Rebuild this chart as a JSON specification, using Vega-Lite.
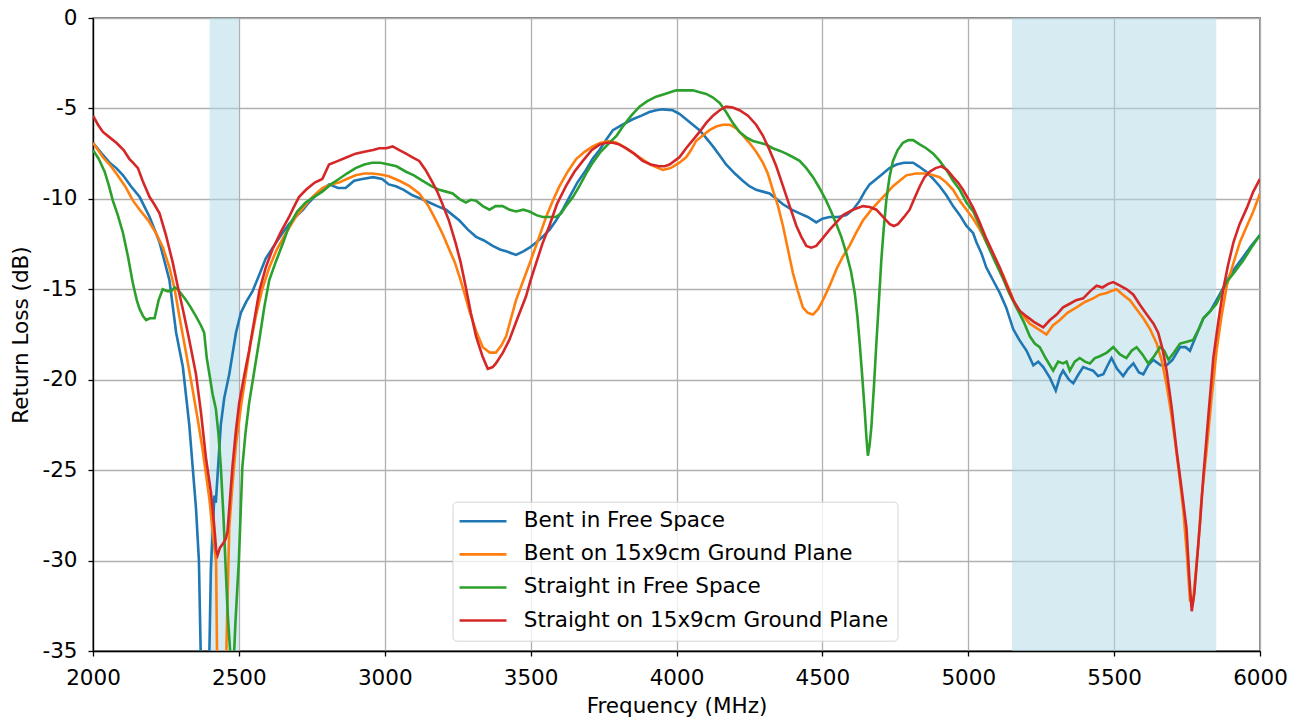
{
  "$schema": "https://vega.github.io/schema/vega-lite/v6.json",
  "width": 1167,
  "height": 633,
  "autosize": {"type": "none"},
  "padding": {"left": 93, "top": 18, "right": 42, "bottom": 73},
  "background": "white",
  "config": {
    "font": "DejaVu Sans",
    "view": {"stroke": "black", "strokeWidth": 1.3},
    "axis": {
      "labelFont": "DejaVu Sans", "labelFontSize": 21.5, "labelColor": "black",
      "titleFont": "DejaVu Sans", "titleFontSize": 21.5, "titleFontWeight": "normal", "titleColor": "black",
      "domainColor": "black", "domainWidth": 1.3, "tickColor": "black", "tickWidth": 1.3, "tickSize": 5,
      "gridColor": "#b0b0b0", "gridWidth": 1.3, "labelOverlap": false, "labelFlush": false
    },
    "legend": {
      "orient": "none", "legendX": 359.5, "legendY": 483.7,
      "symbolType": "M-1.6,0H4.4", "symbolSize": 245, "symbolStrokeWidth": 2.6,
      "labelFont": "DejaVu Sans", "labelFontSize": 21.5, "labelColor": "black", "labelOffset": 41, "labelLimit": 0,
      "padding": 8.8, "rowPadding": 10.1, "strokeColor": "#d5d5d5", "fillColor": "rgba(255,255,255,0.8)", "cornerRadius": 4
    }
  },
  "datasets": {
    "bands": [{"start": 2400, "end": 2500}, {"start": 5150, "end": 5850}],
    "bentFree": [
      {"f":2000,"v":-6.9},{"f":2030,"v":-7.5},{"f":2057,"v":-8.0},{"f":2080,"v":-8.3},{"f":2103,"v":-8.7},{"f":2130,"v":-9.3},{"f":2160,"v":-9.9},{"f":2194,"v":-11.0},{"f":2228,"v":-12.4},{"f":2262,"v":-14.5},{"f":2285,"v":-17.4},{"f":2308,"v":-19.3},{"f":2330,"v":-22.5},{"f":2353,"v":-27.1},{"f":2363,"v":-30.0},{"f":2369,"v":-35.0},{"f":2385,"v":-40},{"f":2399,"v":-35.0},{"f":2404,"v":-30.5},{"f":2416,"v":-26.4},{"f":2421,"v":-26.8},{"f":2438,"v":-22.5},{"f":2450,"v":-21.0},{"f":2467,"v":-19.7},{"f":2490,"v":-17.4},{"f":2507,"v":-16.3},{"f":2525,"v":-15.7},{"f":2547,"v":-15.1},{"f":2570,"v":-14.2},{"f":2592,"v":-13.3},{"f":2620,"v":-12.6},{"f":2649,"v":-11.9},{"f":2672,"v":-11.4},{"f":2695,"v":-11.0},{"f":2720,"v":-10.6},{"f":2740,"v":-10.2},{"f":2770,"v":-9.7},{"f":2809,"v":-9.2},{"f":2840,"v":-9.4},{"f":2866,"v":-9.4},{"f":2895,"v":-9.0},{"f":2923,"v":-8.9},{"f":2960,"v":-8.8},{"f":2991,"v":-8.9},{"f":3014,"v":-9.2},{"f":3038,"v":-9.3},{"f":3065,"v":-9.5},{"f":3095,"v":-9.8},{"f":3125,"v":-10.0},{"f":3153,"v":-10.2},{"f":3180,"v":-10.4},{"f":3210,"v":-10.6},{"f":3233,"v":-10.9},{"f":3256,"v":-11.2},{"f":3285,"v":-11.7},{"f":3313,"v":-12.1},{"f":3340,"v":-12.3},{"f":3370,"v":-12.6},{"f":3395,"v":-12.8},{"f":3416,"v":-12.9},{"f":3450,"v":-13.1},{"f":3475,"v":-12.9},{"f":3496,"v":-12.7},{"f":3520,"v":-12.4},{"f":3541,"v":-12.1},{"f":3565,"v":-11.7},{"f":3587,"v":-11.2},{"f":3610,"v":-10.6},{"f":3633,"v":-9.9},{"f":3660,"v":-9.1},{"f":3690,"v":-8.4},{"f":3712,"v":-7.8},{"f":3736,"v":-7.3},{"f":3760,"v":-6.7},{"f":3782,"v":-6.2},{"f":3815,"v":-5.9},{"f":3850,"v":-5.6},{"f":3880,"v":-5.4},{"f":3907,"v":-5.2},{"f":3930,"v":-5.1},{"f":3953,"v":-5.05},{"f":3987,"v":-5.1},{"f":4010,"v":-5.3},{"f":4033,"v":-5.6},{"f":4056,"v":-5.9},{"f":4079,"v":-6.2},{"f":4100,"v":-6.6},{"f":4125,"v":-7.1},{"f":4148,"v":-7.6},{"f":4170,"v":-8.1},{"f":4200,"v":-8.6},{"f":4227,"v":-9.0},{"f":4250,"v":-9.3},{"f":4273,"v":-9.5},{"f":4296,"v":-9.6},{"f":4319,"v":-9.7},{"f":4342,"v":-10.0},{"f":4365,"v":-10.3},{"f":4395,"v":-10.6},{"f":4422,"v":-10.8},{"f":4450,"v":-11.0},{"f":4479,"v":-11.3},{"f":4500,"v":-11.1},{"f":4525,"v":-11.0},{"f":4555,"v":-11.0},{"f":4582,"v":-10.9},{"f":4605,"v":-10.6},{"f":4628,"v":-10.1},{"f":4645,"v":-9.6},{"f":4662,"v":-9.2},{"f":4685,"v":-8.9},{"f":4708,"v":-8.6},{"f":4730,"v":-8.3},{"f":4754,"v":-8.1},{"f":4780,"v":-8.0},{"f":4811,"v":-8.0},{"f":4830,"v":-8.2},{"f":4856,"v":-8.5},{"f":4880,"v":-8.9},{"f":4902,"v":-9.3},{"f":4925,"v":-9.8},{"f":4948,"v":-10.4},{"f":4971,"v":-10.9},{"f":4994,"v":-11.5},{"f":5017,"v":-11.9},{"f":5028,"v":-12.4},{"f":5045,"v":-13.0},{"f":5062,"v":-13.8},{"f":5085,"v":-14.5},{"f":5108,"v":-15.2},{"f":5130,"v":-16.0},{"f":5154,"v":-17.2},{"f":5175,"v":-17.8},{"f":5200,"v":-18.4},{"f":5223,"v":-19.2},{"f":5240,"v":-19.0},{"f":5257,"v":-19.3},{"f":5280,"v":-19.9},{"f":5300,"v":-20.6},{"f":5315,"v":-19.8},{"f":5325,"v":-19.5},{"f":5345,"v":-20.0},{"f":5360,"v":-20.2},{"f":5378,"v":-19.7},{"f":5394,"v":-19.3},{"f":5410,"v":-19.4},{"f":5428,"v":-19.5},{"f":5445,"v":-19.8},{"f":5463,"v":-19.7},{"f":5478,"v":-19.2},{"f":5491,"v":-18.8},{"f":5510,"v":-19.4},{"f":5531,"v":-19.8},{"f":5548,"v":-19.4},{"f":5566,"v":-19.1},{"f":5585,"v":-19.6},{"f":5600,"v":-19.7},{"f":5617,"v":-19.2},{"f":5634,"v":-18.9},{"f":5660,"v":-19.2},{"f":5680,"v":-19.2},{"f":5700,"v":-18.9},{"f":5726,"v":-18.2},{"f":5745,"v":-18.2},{"f":5760,"v":-18.4},{"f":5785,"v":-17.4},{"f":5806,"v":-16.6},{"f":5830,"v":-16.2},{"f":5851,"v":-15.6},{"f":5875,"v":-14.9},{"f":5897,"v":-14.2},{"f":5920,"v":-13.7},{"f":5943,"v":-13.2},{"f":5970,"v":-12.6},{"f":6000,"v":-12.0}
    ],
    "bentGround": [
      {"f":2000,"v":-6.9},{"f":2034,"v":-7.7},{"f":2057,"v":-8.1},{"f":2080,"v":-8.6},{"f":2110,"v":-9.3},{"f":2137,"v":-10.1},{"f":2160,"v":-10.6},{"f":2190,"v":-11.2},{"f":2216,"v":-11.9},{"f":2240,"v":-12.7},{"f":2262,"v":-13.8},{"f":2280,"v":-15.0},{"f":2296,"v":-16.5},{"f":2320,"v":-18.6},{"f":2342,"v":-20.6},{"f":2360,"v":-22.3},{"f":2376,"v":-23.9},{"f":2399,"v":-26.6},{"f":2411,"v":-28.5},{"f":2422,"v":-30.1},{"f":2425,"v":-35},{"f":2440,"v":-40},{"f":2457,"v":-35},{"f":2467,"v":-28.2},{"f":2478,"v":-25.8},{"f":2490,"v":-23.6},{"f":2507,"v":-21.5},{"f":2524,"v":-19.7},{"f":2540,"v":-18.0},{"f":2558,"v":-16.5},{"f":2580,"v":-15.0},{"f":2604,"v":-13.8},{"f":2630,"v":-12.8},{"f":2661,"v":-11.9},{"f":2695,"v":-11.0},{"f":2720,"v":-10.5},{"f":2740,"v":-10.1},{"f":2765,"v":-9.7},{"f":2786,"v":-9.4},{"f":2815,"v":-9.2},{"f":2843,"v":-9.1},{"f":2870,"v":-8.9},{"f":2900,"v":-8.7},{"f":2930,"v":-8.6},{"f":2957,"v":-8.6},{"f":2985,"v":-8.65},{"f":3014,"v":-8.75},{"f":3050,"v":-9.0},{"f":3085,"v":-9.3},{"f":3118,"v":-9.7},{"f":3150,"v":-10.4},{"f":3176,"v":-11.2},{"f":3200,"v":-12.0},{"f":3221,"v":-12.8},{"f":3240,"v":-13.5},{"f":3256,"v":-14.3},{"f":3273,"v":-15.2},{"f":3290,"v":-16.2},{"f":3313,"v":-17.3},{"f":3336,"v":-18.2},{"f":3360,"v":-18.5},{"f":3381,"v":-18.5},{"f":3400,"v":-18.1},{"f":3416,"v":-17.6},{"f":3433,"v":-16.6},{"f":3450,"v":-15.6},{"f":3473,"v":-14.6},{"f":3496,"v":-13.6},{"f":3525,"v":-12.3},{"f":3553,"v":-11.0},{"f":3576,"v":-10.1},{"f":3599,"v":-9.3},{"f":3627,"v":-8.5},{"f":3656,"v":-7.8},{"f":3685,"v":-7.4},{"f":3713,"v":-7.1},{"f":3740,"v":-6.9},{"f":3770,"v":-6.8},{"f":3795,"v":-6.9},{"f":3816,"v":-7.1},{"f":3845,"v":-7.4},{"f":3873,"v":-7.7},{"f":3910,"v":-8.1},{"f":3953,"v":-8.4},{"f":3980,"v":-8.3},{"f":4010,"v":-8.0},{"f":4033,"v":-7.7},{"f":4050,"v":-7.3},{"f":4067,"v":-6.8},{"f":4090,"v":-6.5},{"f":4113,"v":-6.2},{"f":4136,"v":-6.0},{"f":4159,"v":-5.9},{"f":4182,"v":-5.9},{"f":4205,"v":-6.1},{"f":4228,"v":-6.5},{"f":4250,"v":-6.9},{"f":4273,"v":-7.4},{"f":4296,"v":-8.0},{"f":4313,"v":-8.6},{"f":4330,"v":-9.5},{"f":4348,"v":-10.4},{"f":4365,"v":-11.5},{"f":4382,"v":-12.8},{"f":4399,"v":-14.1},{"f":4416,"v":-15.1},{"f":4433,"v":-16.0},{"f":4450,"v":-16.3},{"f":4468,"v":-16.4},{"f":4485,"v":-16.1},{"f":4502,"v":-15.6},{"f":4525,"v":-14.8},{"f":4548,"v":-13.9},{"f":4570,"v":-13.2},{"f":4593,"v":-12.6},{"f":4615,"v":-11.9},{"f":4639,"v":-11.2},{"f":4668,"v":-10.6},{"f":4696,"v":-10.1},{"f":4720,"v":-9.7},{"f":4742,"v":-9.3},{"f":4765,"v":-9.0},{"f":4788,"v":-8.7},{"f":4820,"v":-8.6},{"f":4856,"v":-8.6},{"f":4880,"v":-8.7},{"f":4902,"v":-8.8},{"f":4925,"v":-9.1},{"f":4948,"v":-9.5},{"f":4971,"v":-10.1},{"f":4994,"v":-10.6},{"f":5017,"v":-11.1},{"f":5040,"v":-11.7},{"f":5062,"v":-12.4},{"f":5090,"v":-13.3},{"f":5119,"v":-14.2},{"f":5140,"v":-15.0},{"f":5165,"v":-16.0},{"f":5190,"v":-16.5},{"f":5211,"v":-16.9},{"f":5240,"v":-17.2},{"f":5268,"v":-17.5},{"f":5290,"v":-17.0},{"f":5314,"v":-16.7},{"f":5340,"v":-16.3},{"f":5371,"v":-16.0},{"f":5400,"v":-15.7},{"f":5428,"v":-15.5},{"f":5450,"v":-15.3},{"f":5474,"v":-15.2},{"f":5490,"v":-15.1},{"f":5508,"v":-15.0},{"f":5530,"v":-15.3},{"f":5554,"v":-15.6},{"f":5577,"v":-16.1},{"f":5600,"v":-16.6},{"f":5623,"v":-17.2},{"f":5646,"v":-18.0},{"f":5664,"v":-19.0},{"f":5680,"v":-20.3},{"f":5695,"v":-21.8},{"f":5708,"v":-23.3},{"f":5722,"v":-25.1},{"f":5737,"v":-27.2},{"f":5750,"v":-29.8},{"f":5760,"v":-32.2},{"f":5771,"v":-32.2},{"f":5788,"v":-29.2},{"f":5800,"v":-26.5},{"f":5817,"v":-23.9},{"f":5834,"v":-21.0},{"f":5851,"v":-18.4},{"f":5868,"v":-16.5},{"f":5886,"v":-14.8},{"f":5910,"v":-13.5},{"f":5931,"v":-12.4},{"f":5955,"v":-11.5},{"f":5977,"v":-10.7},{"f":6000,"v":-9.7}
    ],
    "straightFree": [
      {"f":2000,"v":-7.3},{"f":2020,"v":-7.8},{"f":2040,"v":-8.5},{"f":2055,"v":-9.3},{"f":2068,"v":-10.1},{"f":2085,"v":-10.9},{"f":2103,"v":-11.9},{"f":2120,"v":-13.2},{"f":2137,"v":-14.7},{"f":2150,"v":-15.6},{"f":2160,"v":-16.1},{"f":2172,"v":-16.5},{"f":2182,"v":-16.7},{"f":2195,"v":-16.6},{"f":2211,"v":-16.6},{"f":2225,"v":-15.6},{"f":2239,"v":-15.0},{"f":2255,"v":-15.1},{"f":2268,"v":-15.1},{"f":2280,"v":-14.9},{"f":2290,"v":-15.0},{"f":2305,"v":-15.3},{"f":2319,"v":-15.6},{"f":2335,"v":-16.0},{"f":2353,"v":-16.5},{"f":2370,"v":-17.0},{"f":2381,"v":-17.4},{"f":2390,"v":-18.8},{"f":2399,"v":-19.7},{"f":2410,"v":-20.8},{"f":2421,"v":-21.6},{"f":2430,"v":-23.0},{"f":2438,"v":-24.8},{"f":2447,"v":-27.5},{"f":2455,"v":-30.5},{"f":2462,"v":-33.0},{"f":2470,"v":-35},{"f":2477,"v":-40},{"f":2484,"v":-35},{"f":2488,"v":-33.5},{"f":2492,"v":-32.3},{"f":2500,"v":-30},{"f":2512,"v":-24.8},{"f":2523,"v":-22.9},{"f":2535,"v":-21.3},{"f":2552,"v":-19.6},{"f":2569,"v":-17.9},{"f":2587,"v":-16.0},{"f":2604,"v":-14.5},{"f":2626,"v":-13.5},{"f":2650,"v":-12.5},{"f":2672,"v":-11.5},{"f":2700,"v":-10.7},{"f":2729,"v":-10.2},{"f":2757,"v":-9.9},{"f":2786,"v":-9.6},{"f":2815,"v":-9.2},{"f":2843,"v":-8.9},{"f":2870,"v":-8.6},{"f":2900,"v":-8.3},{"f":2930,"v":-8.1},{"f":2957,"v":-8.0},{"f":2985,"v":-8.0},{"f":3014,"v":-8.1},{"f":3040,"v":-8.2},{"f":3073,"v":-8.5},{"f":3100,"v":-8.7},{"f":3130,"v":-9.0},{"f":3160,"v":-9.3},{"f":3187,"v":-9.5},{"f":3210,"v":-9.6},{"f":3233,"v":-9.7},{"f":3255,"v":-10.0},{"f":3278,"v":-10.2},{"f":3295,"v":-10.05},{"f":3313,"v":-10.1},{"f":3336,"v":-10.4},{"f":3359,"v":-10.6},{"f":3380,"v":-10.4},{"f":3404,"v":-10.4},{"f":3428,"v":-10.6},{"f":3450,"v":-10.7},{"f":3475,"v":-10.6},{"f":3496,"v":-10.7},{"f":3520,"v":-10.9},{"f":3541,"v":-11.0},{"f":3565,"v":-11.0},{"f":3587,"v":-11.0},{"f":3605,"v":-10.8},{"f":3621,"v":-10.4},{"f":3645,"v":-9.9},{"f":3667,"v":-9.3},{"f":3690,"v":-8.6},{"f":3713,"v":-8.0},{"f":3740,"v":-7.4},{"f":3770,"v":-6.9},{"f":3795,"v":-6.5},{"f":3816,"v":-6.0},{"f":3845,"v":-5.4},{"f":3873,"v":-4.9},{"f":3900,"v":-4.6},{"f":3930,"v":-4.35},{"f":3960,"v":-4.2},{"f":3999,"v":-4.0},{"f":4030,"v":-4.0},{"f":4056,"v":-4.0},{"f":4080,"v":-4.1},{"f":4102,"v":-4.2},{"f":4125,"v":-4.4},{"f":4148,"v":-4.7},{"f":4170,"v":-5.2},{"f":4193,"v":-5.8},{"f":4216,"v":-6.3},{"f":4239,"v":-6.6},{"f":4262,"v":-6.8},{"f":4285,"v":-6.9},{"f":4308,"v":-7.0},{"f":4330,"v":-7.2},{"f":4355,"v":-7.35},{"f":4376,"v":-7.5},{"f":4400,"v":-7.7},{"f":4422,"v":-7.9},{"f":4445,"v":-8.3},{"f":4468,"v":-8.8},{"f":4490,"v":-9.4},{"f":4513,"v":-10.1},{"f":4530,"v":-10.7},{"f":4548,"v":-11.4},{"f":4565,"v":-12.1},{"f":4582,"v":-13.0},{"f":4598,"v":-14.0},{"f":4611,"v":-15.2},{"f":4620,"v":-16.5},{"f":4628,"v":-18.0},{"f":4637,"v":-19.9},{"f":4645,"v":-21.7},{"f":4651,"v":-23.2},{"f":4656,"v":-24.2},{"f":4662,"v":-23.6},{"f":4668,"v":-22.6},{"f":4677,"v":-20.3},{"f":4685,"v":-18.0},{"f":4694,"v":-15.6},{"f":4702,"v":-13.4},{"f":4710,"v":-11.7},{"f":4719,"v":-10.1},{"f":4730,"v":-8.8},{"f":4742,"v":-7.9},{"f":4758,"v":-7.3},{"f":4776,"v":-6.9},{"f":4795,"v":-6.75},{"f":4811,"v":-6.75},{"f":4835,"v":-7.0},{"f":4856,"v":-7.2},{"f":4880,"v":-7.5},{"f":4902,"v":-7.9},{"f":4925,"v":-8.4},{"f":4948,"v":-9.0},{"f":4971,"v":-9.5},{"f":4994,"v":-10.2},{"f":5017,"v":-10.7},{"f":5040,"v":-11.5},{"f":5062,"v":-12.4},{"f":5090,"v":-13.4},{"f":5119,"v":-14.4},{"f":5140,"v":-15.2},{"f":5165,"v":-16.0},{"f":5190,"v":-16.8},{"f":5211,"v":-17.6},{"f":5228,"v":-18.0},{"f":5245,"v":-18.2},{"f":5265,"v":-18.8},{"f":5291,"v":-19.5},{"f":5308,"v":-19.0},{"f":5325,"v":-19.1},{"f":5337,"v":-19.0},{"f":5348,"v":-19.5},{"f":5365,"v":-19.0},{"f":5382,"v":-18.8},{"f":5400,"v":-19.0},{"f":5417,"v":-19.1},{"f":5434,"v":-18.8},{"f":5451,"v":-18.7},{"f":5475,"v":-18.5},{"f":5497,"v":-18.2},{"f":5520,"v":-18.6},{"f":5542,"v":-18.8},{"f":5560,"v":-18.4},{"f":5577,"v":-18.2},{"f":5597,"v":-18.6},{"f":5617,"v":-19.1},{"f":5637,"v":-18.7},{"f":5657,"v":-18.2},{"f":5672,"v":-18.4},{"f":5686,"v":-18.9},{"f":5705,"v":-18.5},{"f":5726,"v":-18.0},{"f":5750,"v":-17.9},{"f":5771,"v":-17.8},{"f":5790,"v":-17.2},{"f":5806,"v":-16.6},{"f":5830,"v":-16.2},{"f":5851,"v":-15.8},{"f":5868,"v":-15.2},{"f":5886,"v":-14.6},{"f":5915,"v":-14.0},{"f":5943,"v":-13.4},{"f":5970,"v":-12.7},{"f":6000,"v":-12.0}
    ],
    "straightGround": [
      {"f":2000,"v":-5.4},{"f":2017,"v":-5.9},{"f":2034,"v":-6.3},{"f":2057,"v":-6.6},{"f":2080,"v":-6.9},{"f":2105,"v":-7.3},{"f":2125,"v":-7.8},{"f":2137,"v":-8.0},{"f":2154,"v":-8.3},{"f":2170,"v":-9.0},{"f":2194,"v":-9.9},{"f":2210,"v":-10.3},{"f":2228,"v":-10.8},{"f":2250,"v":-12.0},{"f":2273,"v":-13.5},{"f":2290,"v":-14.8},{"f":2308,"v":-16.1},{"f":2330,"v":-17.8},{"f":2353,"v":-19.7},{"f":2370,"v":-21.8},{"f":2387,"v":-24.3},{"f":2404,"v":-26.2},{"f":2415,"v":-28.0},{"f":2422,"v":-29.4},{"f":2427,"v":-29.7},{"f":2435,"v":-29.3},{"f":2444,"v":-29.1},{"f":2455,"v":-28.8},{"f":2461,"v":-28.4},{"f":2470,"v":-26.5},{"f":2478,"v":-24.8},{"f":2490,"v":-22.8},{"f":2501,"v":-21.3},{"f":2518,"v":-19.8},{"f":2535,"v":-18.4},{"f":2552,"v":-16.8},{"f":2570,"v":-15.1},{"f":2592,"v":-13.8},{"f":2615,"v":-12.8},{"f":2645,"v":-11.8},{"f":2672,"v":-11.0},{"f":2690,"v":-10.4},{"f":2706,"v":-9.9},{"f":2730,"v":-9.5},{"f":2760,"v":-9.1},{"f":2786,"v":-8.9},{"f":2809,"v":-8.1},{"f":2840,"v":-7.9},{"f":2870,"v":-7.7},{"f":2900,"v":-7.5},{"f":2930,"v":-7.4},{"f":2960,"v":-7.3},{"f":2981,"v":-7.2},{"f":3005,"v":-7.2},{"f":3027,"v":-7.1},{"f":3050,"v":-7.3},{"f":3073,"v":-7.5},{"f":3095,"v":-7.7},{"f":3118,"v":-7.9},{"f":3140,"v":-8.4},{"f":3164,"v":-9.1},{"f":3180,"v":-9.6},{"f":3198,"v":-10.3},{"f":3220,"v":-11.2},{"f":3244,"v":-12.5},{"f":3260,"v":-13.5},{"f":3278,"v":-14.9},{"f":3295,"v":-16.3},{"f":3313,"v":-17.6},{"f":3335,"v":-18.7},{"f":3353,"v":-19.4},{"f":3370,"v":-19.3},{"f":3381,"v":-19.1},{"f":3405,"v":-18.5},{"f":3427,"v":-17.8},{"f":3455,"v":-16.6},{"f":3484,"v":-15.4},{"f":3500,"v":-14.5},{"f":3518,"v":-13.6},{"f":3540,"v":-12.5},{"f":3564,"v":-11.5},{"f":3590,"v":-10.3},{"f":3621,"v":-9.3},{"f":3650,"v":-8.5},{"f":3679,"v":-7.9},{"f":3710,"v":-7.3},{"f":3736,"v":-7.0},{"f":3760,"v":-6.9},{"f":3782,"v":-6.9},{"f":3805,"v":-7.0},{"f":3827,"v":-7.2},{"f":3855,"v":-7.5},{"f":3884,"v":-7.9},{"f":3912,"v":-8.1},{"f":3941,"v":-8.2},{"f":3960,"v":-8.2},{"f":3976,"v":-8.1},{"f":4010,"v":-7.7},{"f":4033,"v":-7.2},{"f":4056,"v":-6.75},{"f":4079,"v":-6.3},{"f":4102,"v":-5.8},{"f":4125,"v":-5.4},{"f":4148,"v":-5.1},{"f":4170,"v":-4.9},{"f":4193,"v":-4.95},{"f":4216,"v":-5.1},{"f":4245,"v":-5.4},{"f":4273,"v":-5.9},{"f":4296,"v":-6.5},{"f":4319,"v":-7.3},{"f":4342,"v":-8.2},{"f":4365,"v":-9.3},{"f":4388,"v":-10.4},{"f":4411,"v":-11.5},{"f":4428,"v":-12.1},{"f":4445,"v":-12.6},{"f":4462,"v":-12.7},{"f":4479,"v":-12.6},{"f":4500,"v":-12.2},{"f":4525,"v":-11.7},{"f":4548,"v":-11.3},{"f":4571,"v":-10.9},{"f":4605,"v":-10.6},{"f":4639,"v":-10.4},{"f":4662,"v":-10.45},{"f":4685,"v":-10.6},{"f":4708,"v":-11.0},{"f":4731,"v":-11.4},{"f":4745,"v":-11.5},{"f":4759,"v":-11.4},{"f":4780,"v":-11.0},{"f":4799,"v":-10.6},{"f":4815,"v":-10.0},{"f":4834,"v":-9.3},{"f":4850,"v":-8.8},{"f":4868,"v":-8.5},{"f":4888,"v":-8.3},{"f":4908,"v":-8.2},{"f":4928,"v":-8.4},{"f":4948,"v":-8.8},{"f":4965,"v":-9.1},{"f":4982,"v":-9.5},{"f":5000,"v":-10.0},{"f":5017,"v":-10.5},{"f":5039,"v":-11.3},{"f":5062,"v":-12.2},{"f":5085,"v":-13.0},{"f":5108,"v":-13.8},{"f":5130,"v":-14.7},{"f":5154,"v":-15.6},{"f":5177,"v":-16.2},{"f":5200,"v":-16.5},{"f":5225,"v":-16.8},{"f":5257,"v":-17.1},{"f":5280,"v":-16.7},{"f":5303,"v":-16.4},{"f":5325,"v":-16.0},{"f":5348,"v":-15.8},{"f":5370,"v":-15.6},{"f":5394,"v":-15.5},{"f":5418,"v":-15.1},{"f":5440,"v":-14.8},{"f":5460,"v":-14.9},{"f":5480,"v":-14.7},{"f":5497,"v":-14.6},{"f":5520,"v":-14.8},{"f":5543,"v":-15.0},{"f":5566,"v":-15.3},{"f":5590,"v":-15.9},{"f":5612,"v":-16.4},{"f":5635,"v":-16.9},{"f":5651,"v":-17.4},{"f":5666,"v":-18.3},{"f":5680,"v":-19.5},{"f":5697,"v":-21.5},{"f":5714,"v":-23.9},{"f":5731,"v":-26.0},{"f":5748,"v":-28.2},{"f":5758,"v":-31.0},{"f":5766,"v":-32.8},{"f":5775,"v":-31.8},{"f":5783,"v":-30.2},{"f":5795,"v":-27.8},{"f":5806,"v":-25.3},{"f":5823,"v":-22.0},{"f":5840,"v":-18.8},{"f":5857,"v":-16.8},{"f":5874,"v":-15.0},{"f":5890,"v":-13.7},{"f":5909,"v":-12.4},{"f":5930,"v":-11.4},{"f":5955,"v":-10.5},{"f":5977,"v":-9.6},{"f":6000,"v":-8.9}
    ]
  },
  "encoding": {
    "x": {"field": "f", "type": "quantitative", "title": "Frequency (MHz)",
          "scale": {"domain": [2000, 6000], "nice": false},
          "axis": {"values": [2000, 2500, 3000, 3500, 4000, 4500, 5000, 5500, 6000], "labelPadding": 11, "titlePadding": 7, "format": "d"}},
    "y": {"field": "v", "type": "quantitative", "title": "Return Loss (dB)",
          "scale": {"domain": [-35, 0], "nice": false},
          "axis": {"values": [-35, -30, -25, -20, -15, -10, -5, 0], "labelPadding": 11, "titlePadding": 9, "labelExpr": "'' + datum.value"}},
    "color": {
      "scale": {
        "domain": ["Bent in Free Space", "Bent on 15x9cm Ground Plane", "Straight in Free Space", "Straight on 15x9cm Ground Plane"],
        "range": ["#1f77b4", "#ff7f0e", "#2ca02c", "#d62728"]
      },
      "legend": {"title": null}
    }
  },
  "layer": [
    {
      "data": {"name": "bands"},
      "mark": {"type": "rect", "color": "#add8e6", "opacity": 0.5},
      "encoding": {"x": {"field": "start", "type": "quantitative"}, "x2": {"field": "end"}, "y": null, "color": null}
    },
    {"data": {"name": "bentFree"}, "mark": {"type": "line", "strokeWidth": 2.6, "clip": true}, "encoding": {"color": {"datum": "Bent in Free Space"}}},
    {"data": {"name": "bentGround"}, "mark": {"type": "line", "strokeWidth": 2.6, "clip": true}, "encoding": {"color": {"datum": "Bent on 15x9cm Ground Plane"}}},
    {"data": {"name": "straightFree"}, "mark": {"type": "line", "strokeWidth": 2.6, "clip": true}, "encoding": {"color": {"datum": "Straight in Free Space"}}},
    {"data": {"name": "straightGround"}, "mark": {"type": "line", "strokeWidth": 2.6, "clip": true}, "encoding": {"color": {"datum": "Straight on 15x9cm Ground Plane"}}}
  ],
  "resolve": {"scale": {"color": "shared"}}
}
